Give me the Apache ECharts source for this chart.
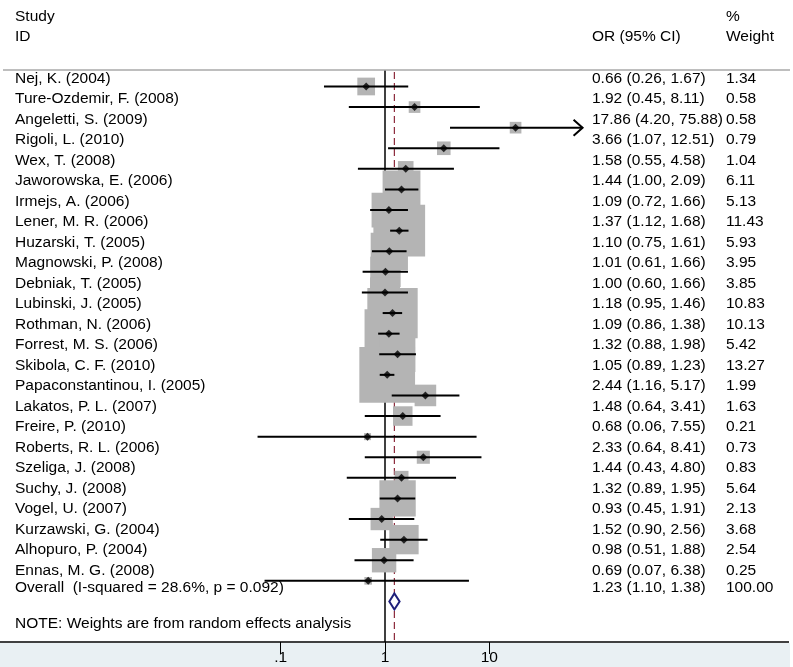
<!DOCTYPE html>
<html><head><meta charset="utf-8">
<script src="https://cdn.jsdelivr.net/npm/echarts@6/dist/echarts.min.js"></script>
<style>html,body{margin:0;padding:0;background:#fff}#c{width:793px;height:667px}</style>
</head><body><div id="c"></div>
<script>
const studies = ['Nej, K. (2004)', 'Ture-Ozdemir, F. (2008)', 'Angeletti, S. (2009)', 'Rigoli, L. (2010)', 'Wex, T. (2008)', 'Jaworowska, E. (2006)', 'Irmejs, A. (2006)', 'Lener, M. R. (2006)', 'Huzarski, T. (2005)', 'Magnowski, P. (2008)', 'Debniak, T. (2005)', 'Lubinski, J. (2005)', 'Rothman, N. (2006)', 'Forrest, M. S. (2006)', 'Skibola, C. F. (2010)', 'Papaconstantinou, I. (2005)', 'Lakatos, P. L. (2007)', 'Freire, P. (2010)', 'Roberts, R. L. (2006)', 'Szeliga, J. (2008)', 'Suchy, J. (2008)', 'Vogel, U. (2007)', 'Kurzawski, G. (2004)', 'Alhopuro, P. (2004)', 'Ennas, M. G. (2008)'];
const orVals  = [0.66, 1.92, 17.86, 3.66, 1.58, 1.44, 1.09, 1.37, 1.10, 1.01, 1.00, 1.18, 1.09, 1.32, 1.05, 2.44, 1.48, 0.68, 2.33, 1.44, 1.32, 0.93, 1.52, 0.98, 0.69];
const ciLow   = [0.26, 0.45, 4.20, 1.07, 0.55, 1.00, 0.72, 1.12, 0.75, 0.61, 0.60, 0.95, 0.86, 0.88, 0.89, 1.16, 0.64, 0.06, 0.64, 0.43, 0.89, 0.45, 0.90, 0.51, 0.07];
const ciHigh  = [1.67, 8.11, 75.88, 12.51, 4.58, 2.09, 1.66, 1.68, 1.61, 1.66, 1.66, 1.46, 1.38, 1.98, 1.23, 5.17, 3.41, 7.55, 8.41, 4.80, 1.95, 1.91, 2.56, 1.88, 6.38];
const weights = [1.34, 0.58, 0.58, 0.79, 1.04, 6.11, 5.13, 11.43, 5.93, 3.95, 3.85, 10.83, 10.13, 5.42, 13.27, 1.99, 1.63, 0.21, 0.73, 0.83, 5.64, 2.13, 3.68, 2.54, 0.25];
const overallOR = 1.23, overallLow = 1.10, overallHigh = 1.38, overallWeight = 100.00;
const overallLabel = 'Overall  (I-squared = 28.6%, p = 0.092)';
const noteText = 'NOTE: Weights are from random effects analysis';
const headerLeft = ['Study', 'ID'];
const headerCI = 'OR (95% CI)';
const headerWeight = ['%', 'Weight'];
const tickValues = [0.1, 1, 10];
const tickLabels = ['.1', '1', '10'];
const nullValue = 1;
const axisMin = 0.01, axisMax = 100, arrowClip = 75;

const FONT = '"Liberation Sans", Arial, Helvetica, sans-serif';
const FS = 15.5;
const n = studies.length;
const yMin = -0.8, yMax = 26.97;

const chart = echarts.init(document.getElementById('c'), null, {renderer: 'canvas'});

const rows = studies.map((s, i) => [i, orVals[i], ciLow[i], ciHigh[i], weights[i]]);

function txt(x, y, t, align) {
  return {type: 'text', x: x, y: y, silent: true, z: 10,
    style: {text: t, fill: '#000', font: FS + 'px ' + FONT, align: align || 'left', verticalAlign: 'middle'}};
}

const graphics = [];
graphics.push({type: 'rect', shape: {x: 0, y: 643, width: 790, height: 24}, style: {fill: '#e9f0f3'}, z: 0, silent: true});
graphics.push({type: 'line', shape: {x1: 3, y1: 70, x2: 790, y2: 70}, style: {stroke: '#a8a8a8', lineWidth: 1.5}, z: 5, silent: true});
graphics.push({type: 'line', shape: {x1: 0, y1: 642, x2: 789, y2: 642}, style: {stroke: '#000', lineWidth: 1.5}, z: 5, silent: true});
graphics.push(txt(15, 17, headerLeft[0]));
graphics.push(txt(15, 37, headerLeft[1]));
graphics.push(txt(592, 37, headerCI));
graphics.push(txt(726, 17, headerWeight[0]));
graphics.push(txt(726, 37, headerWeight[1]));
studies.forEach((s, i) => {
  const y = 78.5 + 20.5 * i;
  graphics.push(txt(15, y, s));
  graphics.push(txt(592, y, orVals[i].toFixed(2) + ' (' + ciLow[i].toFixed(2) + ', ' + ciHigh[i].toFixed(2) + ')'));
  graphics.push(txt(726, y, weights[i].toFixed(2)));
});
graphics.push(txt(15, 588, overallLabel));
graphics.push(txt(592, 588, overallOR.toFixed(2) + ' (' + overallLow.toFixed(2) + ', ' + overallHigh.toFixed(2) + ')'));
graphics.push(txt(726, 588, overallWeight.toFixed(2)));
graphics.push(txt(15, 624, noteText));

const option = {
  animation: false,
  backgroundColor: '#fff',
  grid: {left: 176.4, right: 199.4, top: 70, bottom: 25, containLabel: false},
  xAxis: {
    type: 'log', logBase: 10, min: axisMin, max: axisMax,
    axisLine: {show: false, onZero: false},
    splitLine: {show: false},
    axisTick: {show: true, length: 12, customValues: tickValues, lineStyle: {color: '#000', width: 1}},
    axisLabel: {show: true, customValues: tickValues, margin: 8, color: '#000', fontSize: 15.5, fontFamily: FONT,
      formatter: v => { const k = tickValues.findIndex(t => Math.abs(Math.log10(t) - Math.log10(v)) < 1e-6); return k >= 0 ? tickLabels[k] : ''; }}
  },
  yAxis: {type: 'value', inverse: true, min: yMin, max: yMax, show: false},
  graphic: graphics,
  series: [
    {
      type: 'custom', name: 'reflines', z: 1, silent: true,
      data: [[nullValue, overallOR]],
      renderItem: (params, api) => {
        const a = api.coord([api.value(0), yMin]), b = api.coord([api.value(0), yMax]);
        const c = api.coord([api.value(1), yMin]), d = api.coord([api.value(1), yMax]);
        return {type: 'group', children: [
          {type: 'line', shape: {x1: a[0], y1: a[1], x2: b[0], y2: b[1]}, style: {stroke: '#000', lineWidth: 1.5}},
          {type: 'line', shape: {x1: c[0], y1: c[1] + 2, x2: d[0], y2: d[1]}, style: {stroke: '#8c2a3c', lineWidth: 1.2, lineDash: [7, 4]}}
        ]};
      }
    },
    {
      type: 'custom', name: 'weights', z: 2, silent: true,
      data: rows,
      encode: {x: 1, y: 0},
      renderItem: (params, api) => {
        const p = api.coord([api.value(1), api.value(0)]);
        const s = 15.3 * Math.sqrt(api.value(4));
        return {type: 'rect', shape: {x: p[0] - s / 2, y: p[1] - s / 2, width: s, height: s}, style: {fill: '#b4b4b4'}};
      }
    },
    {
      type: 'custom', name: 'ci', z: 3, silent: true,
      data: rows,
      encode: {x: [2, 3], y: 0},
      renderItem: (params, api) => {
        const row = api.value(0), lo = api.value(2), hi = api.value(3);
        const clipped = hi > arrowClip;
        const p1 = api.coord([lo, row]);
        const p2 = api.coord([clipped ? arrowClip : hi, row]);
        const tip = clipped ? p2[0] + 2 : p2[0];
        const children = [{type: 'line', shape: {x1: p1[0], y1: p1[1], x2: tip, y2: p2[1]}, style: {stroke: '#000', lineWidth: 2}}];
        if (clipped) {
          children.push({type: 'polyline', shape: {points: [[tip - 9, p2[1] - 8], [tip, p2[1]], [tip - 9, p2[1] + 8]]}, style: {stroke: '#000', lineWidth: 2, fill: null}});
        }
        return {type: 'group', children: children};
      }
    },
    {
      type: 'scatter', name: 'or', z: 4, silent: true,
      symbol: 'diamond', symbolSize: [8, 8],
      itemStyle: {color: '#000'},
      data: rows.map(r => [r[1], r[0]])
    },
    {
      type: 'custom', name: 'overall', z: 4, silent: true,
      data: [[overallOR, overallLow, overallHigh, n]],
      renderItem: (params, api) => {
        const row = api.value(3);
        const c = api.coord([api.value(0), row]);
        const l = api.coord([api.value(1), row]);
        const r = api.coord([api.value(2), row]);
        return {type: 'polygon', shape: {points: [[l[0], c[1]], [c[0], c[1] - 8], [r[0], c[1]], [c[0], c[1] + 8]]},
          style: {fill: '#fff', stroke: '#1f1f7a', lineWidth: 2}};
      }
    }
  ]
};
chart.setOption(option);
</script></body></html>
